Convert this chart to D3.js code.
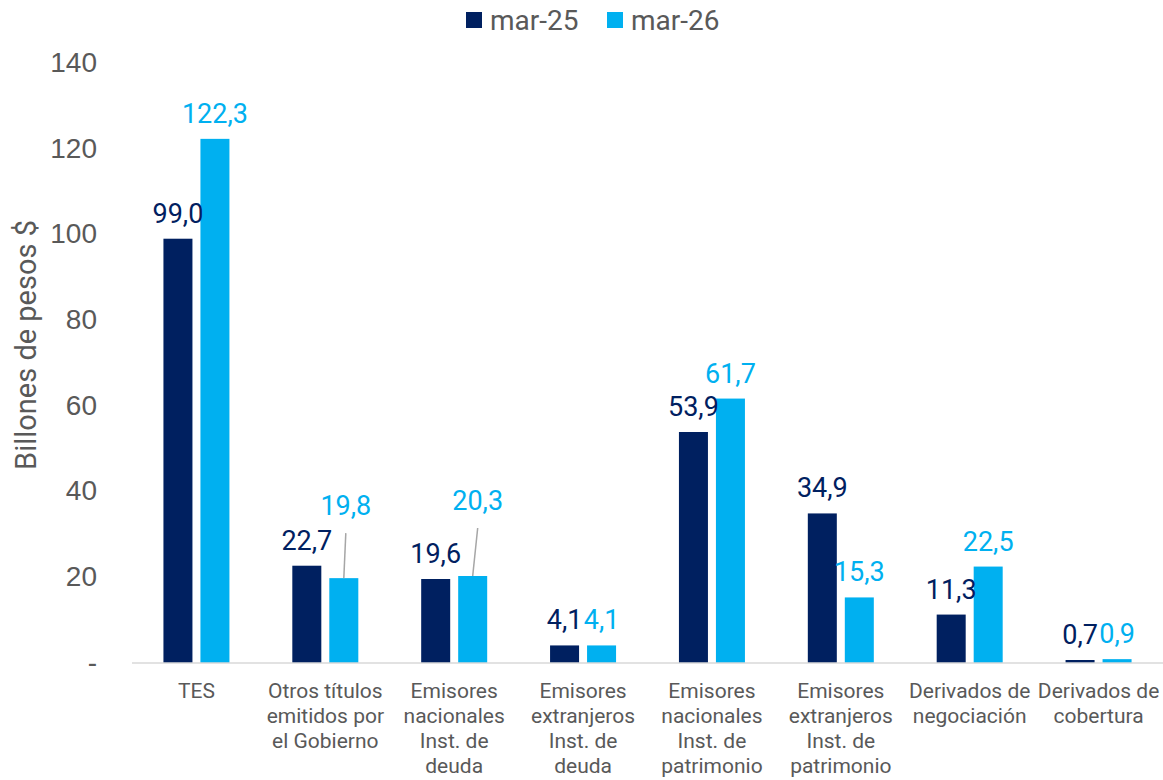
<!DOCTYPE html>
<html lang="es">
<head>
<meta charset="utf-8">
<title>Billones de pesos</title>
<script src="https://d3js.org/d3.v7.min.js"></script>
<style>
  body { margin: 0; background: #fff; }
  svg { font-family: Roboto, "Noto Sans", sans-serif; }
</style>
</head>
<body>
<svg width="1163" height="780"></svg>
<script>
const categories = [
  ["TES"],
  ["Otros títulos", "emitidos por", "el Gobierno"],
  ["Emisores", "nacionales", "Inst. de", "deuda"],
  ["Emisores", "extranjeros", "Inst. de", "deuda"],
  ["Emisores", "nacionales", "Inst. de", "patrimonio"],
  ["Emisores", "extranjeros", "Inst. de", "patrimonio"],
  ["Derivados de", "negociación"],
  ["Derivados de", "cobertura"]
];
const seriesNames = ["mar-25", "mar-26"];
const mar25 = [99.0, 22.7, 19.6, 4.1, 53.9, 34.9, 11.3, 0.7];
const mar26 = [122.3, 19.8, 20.3, 4.1, 61.7, 15.3, 22.5, 0.9];
const yTicks = [0, 20, 40, 60, 80, 100, 120, 140];

const colors = { "mar-25": "#002060", "mar-26": "#00B0F0" };
const grey = "#595959";

const svg = d3.select("svg");
const margin = { top: 63, right: 0, bottom: 117, left: 132 };
const width = 1163 - margin.left - margin.right;
const height = 780 - margin.top - margin.bottom;
const g = svg.append("g").attr("transform", "translate(" + margin.left + "," + margin.top + ")");

const x = d3.scaleBand().domain(d3.range(categories.length)).range([0, width]).padding(0);
const bw = x.bandwidth();
const x1 = d3.scaleBand().domain(seriesNames).range([bw / 2 - 33, bw / 2 + 33]).paddingInner(0.216);
const y = d3.scaleLinear().domain([0, 140]).range([height, 0]);

const data = categories.map((c, i) => ({ i, values: [
  { key: "mar-25", v: mar25[i] },
  { key: "mar-26", v: mar26[i] }
]}));

// y axis
const yAxis = g.append("g")
  .call(d3.axisLeft(y).tickValues(yTicks).tickSize(0).tickPadding(35)
    .tickFormat(d => d === 0 ? "-" : d));
yAxis.select(".domain").remove();
yAxis.selectAll("text").attr("fill", grey).style("font-size", "28px").attr("dy", "0.3em");

g.append("text")
  .attr("transform", "rotate(-90)")
  .attr("x", -(345 - margin.top))
  .attr("y", -96)
  .attr("text-anchor", "middle")
  .attr("fill", grey)
  .style("font-size", "29px")
  .text("Billones de pesos $");

// bars
const groups = g.selectAll(".cat").data(data).enter().append("g")
  .attr("transform", d => "translate(" + x(d.i) + ",0)");

groups.selectAll("rect").data(d => d.values).enter().append("rect")
  .attr("x", d => x1(d.key))
  .attr("y", d => y(d.v))
  .attr("width", x1.bandwidth())
  .attr("height", d => y(0) - y(d.v))
  .attr("fill", d => colors[d.key]);

// x axis line
g.append("line")
  .attr("x1", 0).attr("x2", width)
  .attr("y1", y(0)).attr("y2", y(0))
  .attr("stroke", "#D9D9D9").attr("stroke-width", 1.5);

// data labels, two lifted with leader lines
const lifted = { "1-mar-26": { dy: 47, dx: 2 }, "2-mar-26": { dy: 50, dx: 5 } };
const fmt = v => d3.format(".1f")(v).replace(".", ",");

groups.each(function(d) {
  const grp = d3.select(this);
  d.values.forEach(s => {
    const cx = x1(s.key) + x1.bandwidth() / 2;
    const top = y(s.v);
    const nudge = lifted[d.i + "-" + s.key] || { dy: 0, dx: 0 };
    const lx = cx + nudge.dx;
    if (nudge.dy) {
      grp.append("line")
        .attr("x1", cx).attr("y1", top)
        .attr("x2", lx).attr("y2", top - nudge.dy + 2)
        .attr("stroke", "#A6A6A6").attr("stroke-width", 1.5);
    }
    grp.append("text")
      .attr("x", lx)
      .attr("y", top - 16 - nudge.dy)
      .attr("text-anchor", "middle")
      .attr("fill", colors[s.key])
      .style("font-size", "27px")
      .text(fmt(s.v));
  });
});

// category labels
const catLabels = g.selectAll(".catlab").data(data).enter().append("text")
  .attr("text-anchor", "middle")
  .attr("fill", grey)
  .style("font-size", "21px")
  .attr("transform", d => "translate(" + (x(d.i) + bw / 2) + "," + (y(0) + 35) + ")");
catLabels.selectAll("tspan").data(d => categories[d.i]).enter().append("tspan")
  .attr("x", 0)
  .attr("dy", (t, j) => j === 0 ? 0 : 25)
  .text(t => t);

// legend
const legend = svg.append("g").attr("transform", "translate(466,12)");
const lItems = legend.selectAll("g").data(seriesNames).enter().append("g")
  .attr("transform", (d, i) => "translate(" + (i * 141) + ",0)");
lItems.append("rect").attr("width", 16).attr("height", 16).attr("fill", d => colors[d]);
lItems.append("text").attr("x", 24).attr("y", 18)
  .attr("fill", grey).style("font-size", "28px").text(d => d);
</script>
</body>
</html>
